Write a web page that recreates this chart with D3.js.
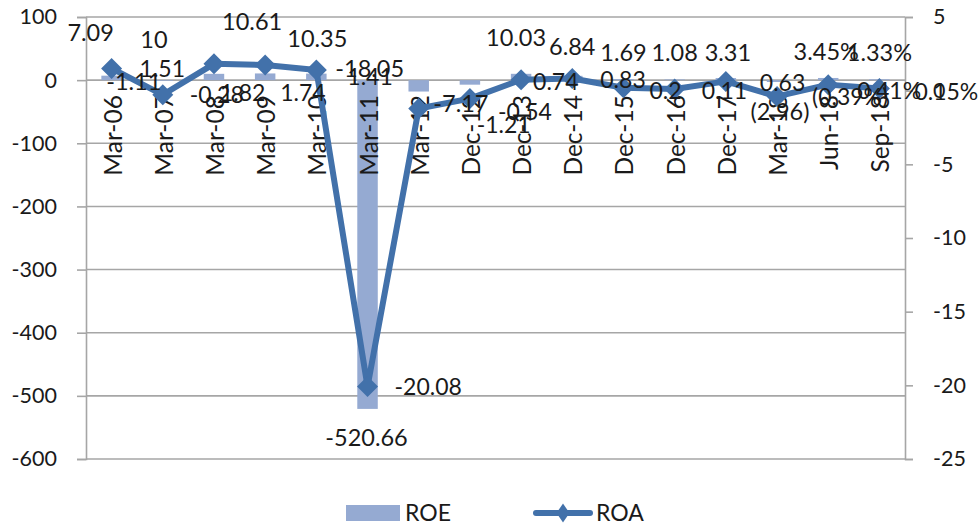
<!DOCTYPE html>
<html>
<head>
<meta charset="utf-8">
<script src="https://cdn.jsdelivr.net/npm/d3@7"></script>
<style>
  html, body { margin: 0; padding: 0; background: #fff; }
  svg { display: block; font-family: Lato, "Open Sans", sans-serif; }
</style>
</head>
<body>
<svg id="chart" width="978" height="527"></svg>
<script>
// Period labels on the category axis
const categories = ['Mar-06','Mar-07','Mar-08','Mar-09','Mar-10','Mar-11','Mar-12','Dec-12',
                    'Dec-13','Dec-14','Dec-15','Dec-16','Dec-17','Mar-18','Jun-18','Sep-18'];

// Return on equity (bars, left axis)
const roeValues = [7.09, -1.11, 10, 10.61, 10.35, -520.66, -18.05, -7.17,
                   10.03, 6.84, 1.69, 1.08, 3.31, -2.96, 3.45, 1.33];
const roeLabels = ['7.09','-1.11','10','10.61','10.35','-520.66','-18.05','-7.17',
                   '10.03','6.84','1.69','1.08','3.31','(2.96)','3.45%','1.33%'];

// Return on assets (line, right axis)
const roaValues = [1.51, -0.28, 1.82, 1.74, 1.41, -20.08, -1.21, -0.54,
                   0.74, 0.83, 0.2, 0.11, 0.63, -0.39, 0.41, 0.15];
const roaLabels = ['1.51','-0.28','1.82','1.74','1.41','-20.08','-1.21','-0.54',
                   '0.74','0.83','0.2','0.11','0.63','(0.39%)','0.41%','0.15%'];

// Axis ticks
const leftTicks = [100, 0, -100, -200, -300, -400, -500, -600];
const rightTicks = [5, 0, -5, -10, -15, -20, -25];

// Label nudges [dx, dy] relative to each mark, so labels clear the line
const roeLabelShift = [[-21,-43],[-29,1],[-60,-34],[-13,-52],[1,-35],[-1,29],[-49,-23],[-9,19],
                       [-5,-36],[0,-29],[0,-27],[0,-27],[2,-26],[3,30],[-2,-26],[0,-27]];
const roaLabelShift = [[28,0],[27,0],[6,29],[15,28],[31,7],[27,0],[58,16],[28,13],
                       [12,2],[28,1],[26,3],[27,2],[34,1],[35,0],[29,6],[35,3]];

const BAR = '#95aad2', LINE = '#4271aa', GRID = '#a6a6a6', TEXT = '#1a1a1a';
const plot = { left: 86, right: 905, top: 17, bottom: 459 };
const plain = d => String(d);   // hyphen-minus, as in the axis labels

const svg = d3.select('#chart');

const x = d3.scaleBand().domain(categories).range([plot.left, plot.right]).padding(0);
const cx = c => x(c) + x.bandwidth() / 2;
const yL = d3.scaleLinear().domain([-600, 100]).range([plot.bottom, plot.top]);
const yR = d3.scaleLinear().domain([-25, 5]).range([plot.bottom, plot.top]);

// Horizontal gridlines at left-axis ticks
svg.append('g').selectAll('line').data(leftTicks).join('line')
  .attr('x1', plot.left).attr('x2', plot.right)
  .attr('y1', d => yL(d)).attr('y2', d => yL(d))
  .attr('stroke', GRID).attr('stroke-width', 1.6);

// Left axis
const gL = svg.append('g').attr('transform', `translate(${plot.left},0)`)
  .call(d3.axisLeft(yL).tickValues(leftTicks).tickSize(9).tickPadding(20).tickFormat(plain));
gL.select('.domain').attr('stroke', GRID).attr('stroke-width', 1.6);
gL.selectAll('.tick line').attr('stroke', GRID).attr('stroke-width', 1.6);
gL.selectAll('.tick text').attr('fill', TEXT).style('font-size', '21.5px').style('font-family', 'Lato');

// Right axis
const gR = svg.append('g').attr('transform', `translate(${plot.right},0)`)
  .call(d3.axisRight(yR).tickValues(rightTicks).tickSize(8).tickPadding(20).tickFormat(plain));
gR.select('.domain').attr('stroke', GRID).attr('stroke-width', 1.6);
gR.selectAll('.tick line').attr('stroke', GRID).attr('stroke-width', 1.6);
gR.selectAll('.tick text').attr('fill', TEXT).style('font-size', '21.5px').style('font-family', 'Lato');

// ROE bars
const barW = x.bandwidth() * 0.4;
svg.append('g').selectAll('rect').data(roeValues).join('rect')
  .attr('x', (d, i) => cx(categories[i]) - barW / 2)
  .attr('width', barW)
  .attr('y', d => Math.min(yL(d), yL(0)))
  .attr('height', d => Math.abs(yL(d) - yL(0)))
  .attr('fill', BAR);

// Category labels, rotated, hanging below the zero line
svg.append('g').selectAll('text').data(categories).join('text')
  .attr('transform', c => `translate(${cx(c) + 10},${yL(0) + 15}) rotate(-90)`)
  .attr('text-anchor', 'end')
  .attr('fill', TEXT).style('font-size', '24.5px')
  .text(c => c);

// ROA line with diamond markers
const pts = roaValues.map((v, i) => [cx(categories[i]), yR(v)]);
svg.append('path').datum(pts)
  .attr('d', d3.line())
  .attr('fill', 'none').attr('stroke', LINE).attr('stroke-width', 6)
  .attr('stroke-linejoin', 'round');
const diamond = r => `M0,${-r}L${r},0L0,${r}L${-r},0Z`;
svg.append('g').selectAll('path').data(pts).join('path')
  .attr('transform', p => `translate(${p[0]},${p[1]})`)
  .attr('d', diamond(10.5)).attr('fill', LINE);

// Data labels
svg.append('g').selectAll('text').data(roeValues).join('text')
  .attr('x', (d, i) => cx(categories[i]) + roeLabelShift[i][0])
  .attr('y', (d, i) => yL(d) + roeLabelShift[i][1])
  .attr('dy', '0.36em').attr('text-anchor', 'middle')
  .attr('fill', TEXT).style('font-size', '23.5px')
  .text((d, i) => roeLabels[i]);

svg.append('g').selectAll('text').data(roaValues).join('text')
  .attr('x', (d, i) => cx(categories[i]) + roaLabelShift[i][0])
  .attr('y', (d, i) => yR(d) + roaLabelShift[i][1])
  .attr('dy', '0.36em').attr('text-anchor', 'start')
  .attr('fill', TEXT).style('font-size', '23px')
  .text((d, i) => roaLabels[i]);

// Legend
const lg = svg.append('g').attr('transform', 'translate(0,513)');
lg.append('rect').attr('x', 346).attr('y', -8).attr('width', 54).attr('height', 16).attr('fill', BAR);
lg.append('text').attr('x', 405).attr('y', 0).attr('dy', '0.36em')
  .attr('fill', TEXT).style('font-size', '23px').text('ROE');
lg.append('line').attr('x1', 536).attr('x2', 590).attr('y1', 0).attr('y2', 0)
  .attr('stroke', LINE).attr('stroke-width', 6).attr('stroke-linecap', 'round');
lg.append('path').attr('transform', 'translate(563,0)')
  .attr('d', 'M0,-9.5L6.5,0L0,9.5L-6.5,0Z').attr('fill', LINE);
lg.append('text').attr('x', 596).attr('y', 0).attr('dy', '0.36em')
  .attr('fill', TEXT).style('font-size', '23px').text('ROA');
</script>
</body>
</html>
